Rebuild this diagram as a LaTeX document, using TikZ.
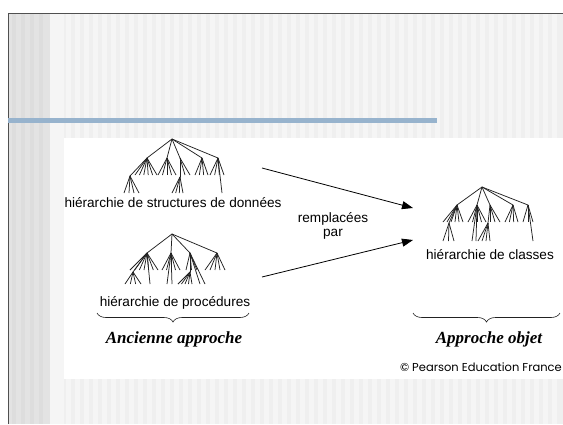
\documentclass[tikz,border=0pt]{standalone}
\usepackage{fontspec}
\setmainfont{Liberation Serif}
\setsansfont{Liberation Sans}
\newfontfamily\pearsonfont{Poppins}
\usetikzlibrary{arrows.meta,decorations.pathreplacing}

\definecolor{slidegray}{HTML}{EFEFEF}
\definecolor{stripegray}{HTML}{F5F5F5}
\definecolor{sidegray}{HTML}{E3E3E3}
\definecolor{sidestripe}{HTML}{DDDDDD}
\definecolor{bordergray}{HTML}{505050}
\definecolor{barblue}{HTML}{97B3CD}
\definecolor{inkgray}{HTML}{222222}

\tikzset{
  treeline/.style={line width=0.75pt, inkgray},
  hlabel/.style={anchor=base, inner sep=0pt, font=\sffamily\fontsize{13.6}{16}\selectfont},
  approach/.style={anchor=base, inner sep=0pt, font=\rmfamily\bfseries\itshape\fontsize{17}{20}\selectfont},
  replacearrow/.style={line width=0.8pt, -{Triangle[length=11pt,width=8pt]}},
  bracebar/.style={line width=0.6pt, inkgray, decorate,
    decoration={brace, mirror, amplitude=9pt}}
}

% one fan: apex x, apex y, left x, right x, number of lines, bottom y
\newcommand{\fan}[6]{%
  \foreach \k in {1,...,#5}
    \draw[treeline] (#1,#2) -- ({#3+(#4-#3)*(\k-1)/(#5-1)},#6);}

\begin{document}
\begin{tikzpicture}[x=1pt, y=-1pt]

\path [use as bounding box] (0,0) rectangle (563,424);

% SLIDE
\fill [slidegray] (8,13) rectangle (563,424);
\foreach \sx in {66,75,...,560}
  \fill [stripegray] (\sx,13) rectangle ++(4.5,411);
\fill [stripegray] (50,13) rectangle (64,424);
\fill [sidegray] (8,13) rectangle (50,424);
\foreach \sx in {12,21,...,46}
  \fill [sidestripe] (\sx,13) rectangle ++(4,411);
\draw [line width=1.2pt, bordergray] (8.5,424) -- (8.5,13.5) -- (563,13.5);
\fill [barblue] (8,118) rectangle (437,123);
\fill [white] (64,138) rectangle (563,379);

% TREE: STRUCTURES DE DONNEES
\foreach \cx in {147,167,180,202,218}
  \draw [treeline] (172,139) -- (\cx,158);
\fan{147}{158}{135}{157}{6}{175}
\draw [treeline] (147,158) -- (130,176);
\fan{130}{176}{124}{139}{4}{193}
\fan{167}{158}{158}{176}{5}{175}
\fan{180}{158}{180}{190}{3}{175}
\draw [treeline] (180,158) -- (180,177);
\fan{180}{177}{172}{183}{4}{193}
\fan{202}{158}{195}{208}{4}{175}
\fan{218}{158}{210}{224}{4}{175}
\draw [treeline] (218,158) -- (222,193);

% TREE: PROCEDURES
\foreach \cx in {147,171,190,217}
  \draw [treeline] (172,234) -- (\cx,253);
\fan{147}{253}{130}{158}{7}{270}
\draw [treeline] (147,253) -- (133,272);
\fan{133}{272}{125}{141}{4}{284}
\draw [treeline] (147,253) -- (150,284);
\fan{171}{253}{162}{180}{5}{270}
\draw [treeline] (171,253) -- (167,284);
\draw [treeline] (171,253) -- (172,284);
\fan{190}{253}{186}{197}{3}{270}
\draw [treeline] (190,253) -- (190,272);
\fan{190}{272}{178}{192}{5}{284}
\draw [treeline] (190,253) -- (200,284);
\draw [treeline] (190,253) -- (205,284);
\fan{217}{253}{205}{225}{5}{270}

% TREE: CLASSES
\foreach \cx in {457,477,490,513,528}
  \draw [treeline] (482,187) -- (\cx,205);
\fan{457}{205}{443}{463}{6}{222}
\draw [treeline] (457,205) -- (449,223);
\fan{449}{223}{443}{454}{3}{241}
\fan{477}{205}{468}{486}{5}{222}
\draw [treeline] (477,205) -- (472,241);
\draw [treeline] (477,205) -- (476,241);
\fan{490}{205}{490}{500}{3}{222}
\draw [treeline] (490,205) -- (488,223);
\fan{488}{223}{478}{490}{4}{241}
\fan{513}{205}{505}{518}{4}{222}
\fan{528}{205}{523}{533}{3}{222}
\draw [treeline] (528,205) -- (533,241);

% LABELS
\node [hlabel] (datalabel) at (173,207) {hiérarchie de structures de données};
\node [hlabel] (proclabel) at (175,306) {hiérarchie de procédures};
\node [hlabel] (classlabel) at (490,259) {hiérarchie de classes};
\node [hlabel, align=center, anchor=center] (replaced) at (333,226)
  {remplacées\\[-2pt]par};

% ARROWS
\coordinate (datafrom) at (262,168);
\coordinate (procfrom) at (262,277);
\coordinate (classin1) at (413,208);
\coordinate (classin2) at (413,240);
\draw [replacearrow] (datafrom) -- (classin1);
\draw [replacearrow] (procfrom) -- (classin2);

% BRACES
\coordinate (oldleft) at (97,313);
\coordinate (oldright) at (249,313);
\coordinate (newleft) at (413,313);
\coordinate (newright) at (560,313);
\draw [bracebar] (oldleft) -- (oldright);
\draw [bracebar] (newleft) -- (newright);
\node [approach] (oldway) at (174,343) {Ancienne approche};
\node [approach] (newway) at (489,343) {Approche objet};

% NOTE
\node [anchor=base east, inner sep=0pt, font=\pearsonfont\fontsize{11.5}{13}\selectfont]
  (copyright) at (562,371) {© Pearson Education France};

\end{tikzpicture}
\end{document}
